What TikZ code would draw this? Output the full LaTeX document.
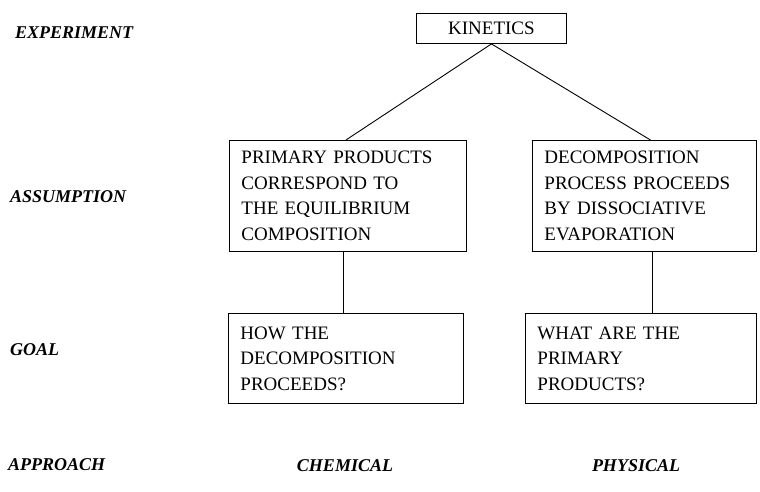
\documentclass[tikz,border=0pt]{standalone}
\usepackage{fontspec}
\setmainfont{Liberation Serif}
\begin{document}
\begin{tikzpicture}[x=1pt,y=1pt,every text node part/.style={align=left}]
\tikzstyle{every node}+=[font=\fontsize{19}{25.5}\selectfont]
\tikzstyle{box}=[draw=black,line width=0.9pt,inner xsep=12pt,inner ysep=0pt,anchor=north west]
\tikzstyle{lvl}=[anchor=west,inner sep=0pt,font=\fontsize{18}{22}\selectfont\bfseries\itshape]
\useasboundingbox (0,0) rectangle (760,-492);
% levels
\node [lvl] (experiment) at (15,-33) {EXPERIMENT};
\node [lvl] (assumption) at (10,-197) {ASSUMPTION};
\node [lvl] (goal) at (10,-350) {GOAL};
\node [lvl] (approach) at (8,-465) {APPROACH};
% boxes
\node [box,minimum width=150pt,minimum height=30pt] (kinetics) at (416,-13) {KINETICS};
\node [box,text width=213pt,minimum height=111pt] (primary) at (229,-140)
  {PRIMARY PRODUCTS\\CORRESPOND TO\\THE EQUILIBRIUM\\COMPOSITION};
\node [box,text width=200pt,minimum height=111pt] (decomp) at (532,-140)
  {DECOMPOSITION\\PROCESS PROCEEDS\\BY DISSOCIATIVE\\EVAPORATION};
\node [box,text width=211pt,minimum height=90pt] (how) at (228,-313)
  {HOW THE\\DECOMPOSITION\\PROCEEDS?};
\node [box,text width=207pt,minimum height=90pt] (what) at (525,-313)
  {WHAT ARE THE\\PRIMARY\\PRODUCTS?};
% approaches
\node [lvl,anchor=center] (chemical) at (345,-466) {CHEMICAL};
\node [lvl,anchor=center] (physical) at (636,-466) {PHYSICAL};
% connectors
\draw [black,line width=0.9pt] (kinetics.south) -- ([xshift=-2pt]primary.north);
\draw [black,line width=0.9pt] (kinetics.south) -- ([xshift=6pt]decomp.north);
\draw [black,line width=0.9pt] ([xshift=-5pt]primary.south) -- ([xshift=-5pt]primary.south |- how.north);
\draw [black,line width=0.9pt] ([xshift=8pt]decomp.south) -- ([xshift=8pt]decomp.south |- what.north);
\end{tikzpicture}
\end{document}
